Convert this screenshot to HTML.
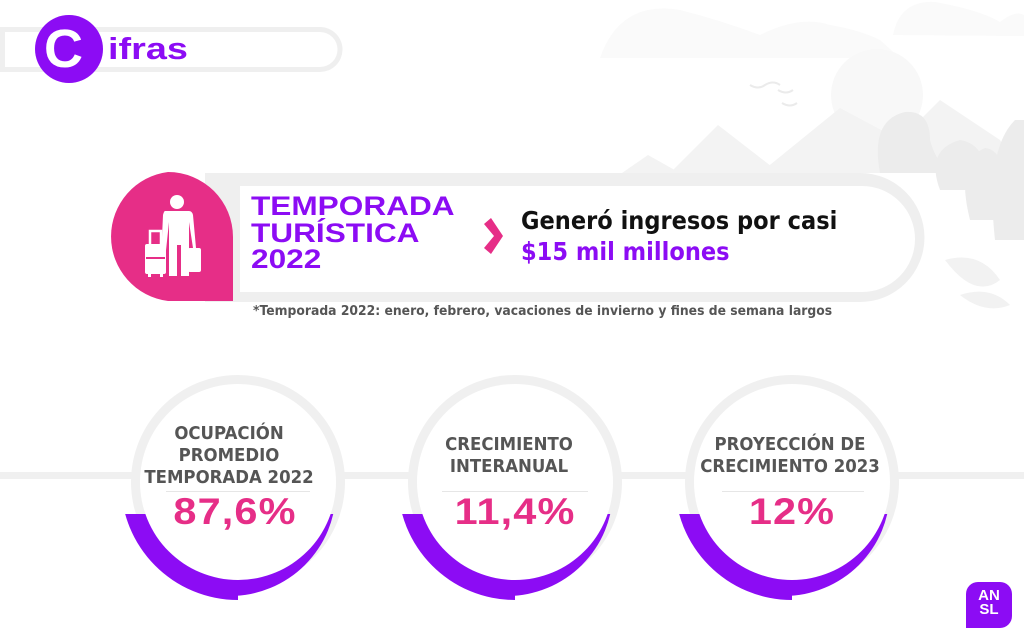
<!DOCTYPE html>
<html><head><meta charset="utf-8"><style>
*{margin:0;padding:0;box-sizing:border-box}
body{width:1024px;height:640px;overflow:hidden;background:#fff;position:relative;font-family:"Liberation Sans",sans-serif}
.a{position:absolute}
.hv{font-family:"Liberation Sans",sans-serif;font-weight:bold;white-space:nowrap}
.lbl{position:absolute;color:#555;font-weight:bold;font-size:18px;text-align:center;line-height:22px;font-family:"DejaVu Sans","Liberation Sans",sans-serif;transform:scaleX(0.92);white-space:nowrap}
.num{position:absolute;color:#e62e87;font-weight:bold;font-size:37px;text-align:center;letter-spacing:1px;white-space:nowrap;transform:scaleX(1.12)}
</style></head><body>
<svg class="a" style="left:0;top:0" width="1024" height="640">
<g fill="#fafafa">
<path d="M600 58 Q620 0 680 10 Q720 20 760 35 Q800 15 830 25 Q860 30 880 40 L900 58 Z"/>
<path d="M893 35 Q900 0 935 2 Q980 10 1000 22 Q1015 10 1024 15 L1024 36 Z"/>
</g>
<circle cx="877" cy="95" r="46" fill="#f8f8f8"/>
<g fill="#f3f3f3">
<path d="M622 173 L648 155 L680 173 Z"/>
<path d="M670 173 L718 125 L780 173 Z"/>
<path d="M760 173 L840 108 L900 140 L940 100 L1000 140 L1024 173 Z"/>
</g>
<g fill="#ececec">
<path d="M880 173 Q870 120 905 112 Q930 110 930 140 Q935 160 950 173 Z"/>
<path d="M940 190 Q925 150 960 140 Q990 145 985 190 Z"/>
<path d="M970 220 Q955 160 985 148 Q1010 150 1005 220 Z"/>
<path d="M995 240 Q985 150 1015 120 L1024 120 L1024 240 Z"/>
</g>
<g fill="#f2f2f2"><path d="M945 260 Q980 250 1000 280 Q975 300 945 260Z"/><path d="M960 295 Q990 285 1010 305 Q985 315 960 295Z"/></g>
<g stroke="#ebebeb" stroke-width="2" fill="none"><path d="M750 85 q8 5 15 0 q8 -5 15 0"/><path d="M778 90 q8 5 15 0"/><path d="M782 103 q8 5 15 0"/></g>
<path d="M0 27 H320 A22.5 22.5 0 0 1 320 72 H0 Z" fill="#efefef"/>
<path d="M5 32 H320 A17.5 17.5 0 0 1 320 67 H5 Z" fill="#fff"/>
<circle cx="69" cy="49" r="34" fill="#8c0cf4"/>
<path d="M205 173 H860 A64.5 64.5 0 0 1 860 302 H205 Z" fill="#efefef"/>
<path d="M240 186 H862 A53 53 0 0 1 862 292 H240 Z" fill="#fff"/>
<path d="M168 172 A65 65 0 0 1 233 237 V301 H168 A65 65 0 0 1 168 172 Z" fill="#e62e87"/>
<g fill="#fff">
<circle cx="177" cy="202" r="7"/>
<path d="M165 211 H189 Q192 211 193 215 L196 248 H193 L189 222 V276 H181 V245 H177 V276 H169 V222 L165 260 H161 L163 215 Q164 211 165 211Z"/>
<rect x="145" y="244" width="21" height="30" rx="2"/>
<rect x="150" y="231" width="11" height="15" fill="none" stroke="#fff" stroke-width="2.5"/>
<rect x="148" y="273" width="3" height="4"/><rect x="160" y="273" width="3" height="4"/>
<rect x="188" y="248" width="13" height="24" rx="2"/>
</g>
<rect x="146" y="257" width="19" height="2" fill="#e62e87"/>
<path d="M484 224 L491 218 L503 236 L491 254 L484 248 L494 236 Z" fill="#e62e87"/>
<rect x="0" y="472" width="1024" height="7" fill="#f0f0f0"/>
<defs><clipPath id="cl"><rect x="0" y="514" width="1024" height="200"/></clipPath></defs>
<g>
<circle cx="238" cy="482" r="107" fill="#f0f0f0"/>
<circle cx="515" cy="482" r="107" fill="#f0f0f0"/>
<circle cx="792" cy="482" r="107" fill="#f0f0f0"/>
</g>
<g clip-path="url(#cl)" fill="#8c0cf4">
<circle cx="230" cy="490" r="106"/><path d="M238 482 m-117 0 A117 117 0 0 0 238 600 V482 Z"/>
<circle cx="507" cy="490" r="106"/><path d="M515 482 m-117 0 A117 117 0 0 0 515 600 V482 Z"/>
<circle cx="784" cy="490" r="106"/><path d="M792 482 m-117 0 A117 117 0 0 0 792 600 V482 Z"/>
</g>
<circle cx="238" cy="482" r="98" fill="#fff"/>
<circle cx="515" cy="482" r="98" fill="#fff"/>
<circle cx="792" cy="482" r="98" fill="#fff"/>
<g stroke="#e6e6e6" stroke-width="1"><line x1="166" y1="491.5" x2="310" y2="491.5"/><line x1="442" y1="491.5" x2="588" y2="491.5"/><line x1="722" y1="491.5" x2="864" y2="491.5"/></g>
<path d="M978 582 H1000 A12 12 0 0 1 1012 594 V616 A12 12 0 0 1 1000 628 H966 V594 A12 12 0 0 1 978 582 Z" fill="#8c0cf4"/>
</svg>
<div class="a hv" style="left:44px;top:22px;font-size:54px;color:#fff;line-height:54px">C</div>
<div class="a hv" style="left:108px;top:30px;font-size:31px;color:#8c0cf4;line-height:38px;transform:scaleX(1.22);transform-origin:left">ifras</div>
<div class="a hv" style="left:251px;top:193px;font-size:27px;color:#8c0cf4;line-height:26.5px;transform:scaleX(1.17);transform-origin:left">TEMPORADA<br>TURÍSTICA<br>2022</div>
<div class="a hv" style="left:521px;top:205px;font-size:24.5px;color:#111;line-height:31px;font-family:'DejaVu Sans','Liberation Sans',sans-serif;transform:scaleX(0.92);transform-origin:left">Generó ingresos por casi<br><span style="color:#8c0cf4">$15 mil millones</span></div>
<div class="a hv" style="left:253px;top:304px;font-size:13.3px;color:#555;font-family:'DejaVu Sans','Liberation Sans',sans-serif;transform:scaleX(0.93);transform-origin:left">*Temporada 2022: enero, febrero, vacaciones de invierno y fines de semana largos</div>
<div class="lbl" style="left:119px;width:220px;top:423px">OCUPACIÓN<br>PROMEDIO<br>TEMPORADA 2022</div>
<div class="lbl" style="left:399px;width:220px;top:434px">CRECIMIENTO<br>INTERANUAL</div>
<div class="lbl" style="left:680px;width:220px;top:434px">PROYECCIÓN DE<br>CRECIMIENTO 2023</div>
<div class="num" style="left:135px;width:200px;top:491px">87,6%</div>
<div class="num" style="left:415px;width:200px;top:491px">11,4%</div>
<div class="num" style="left:692px;width:200px;top:491px">12%</div>
<div class="a hv" style="left:966px;top:589px;width:46px;text-align:center;color:#fff;font-size:15px;line-height:14px">AN<br>SL</div>
</body></html>
